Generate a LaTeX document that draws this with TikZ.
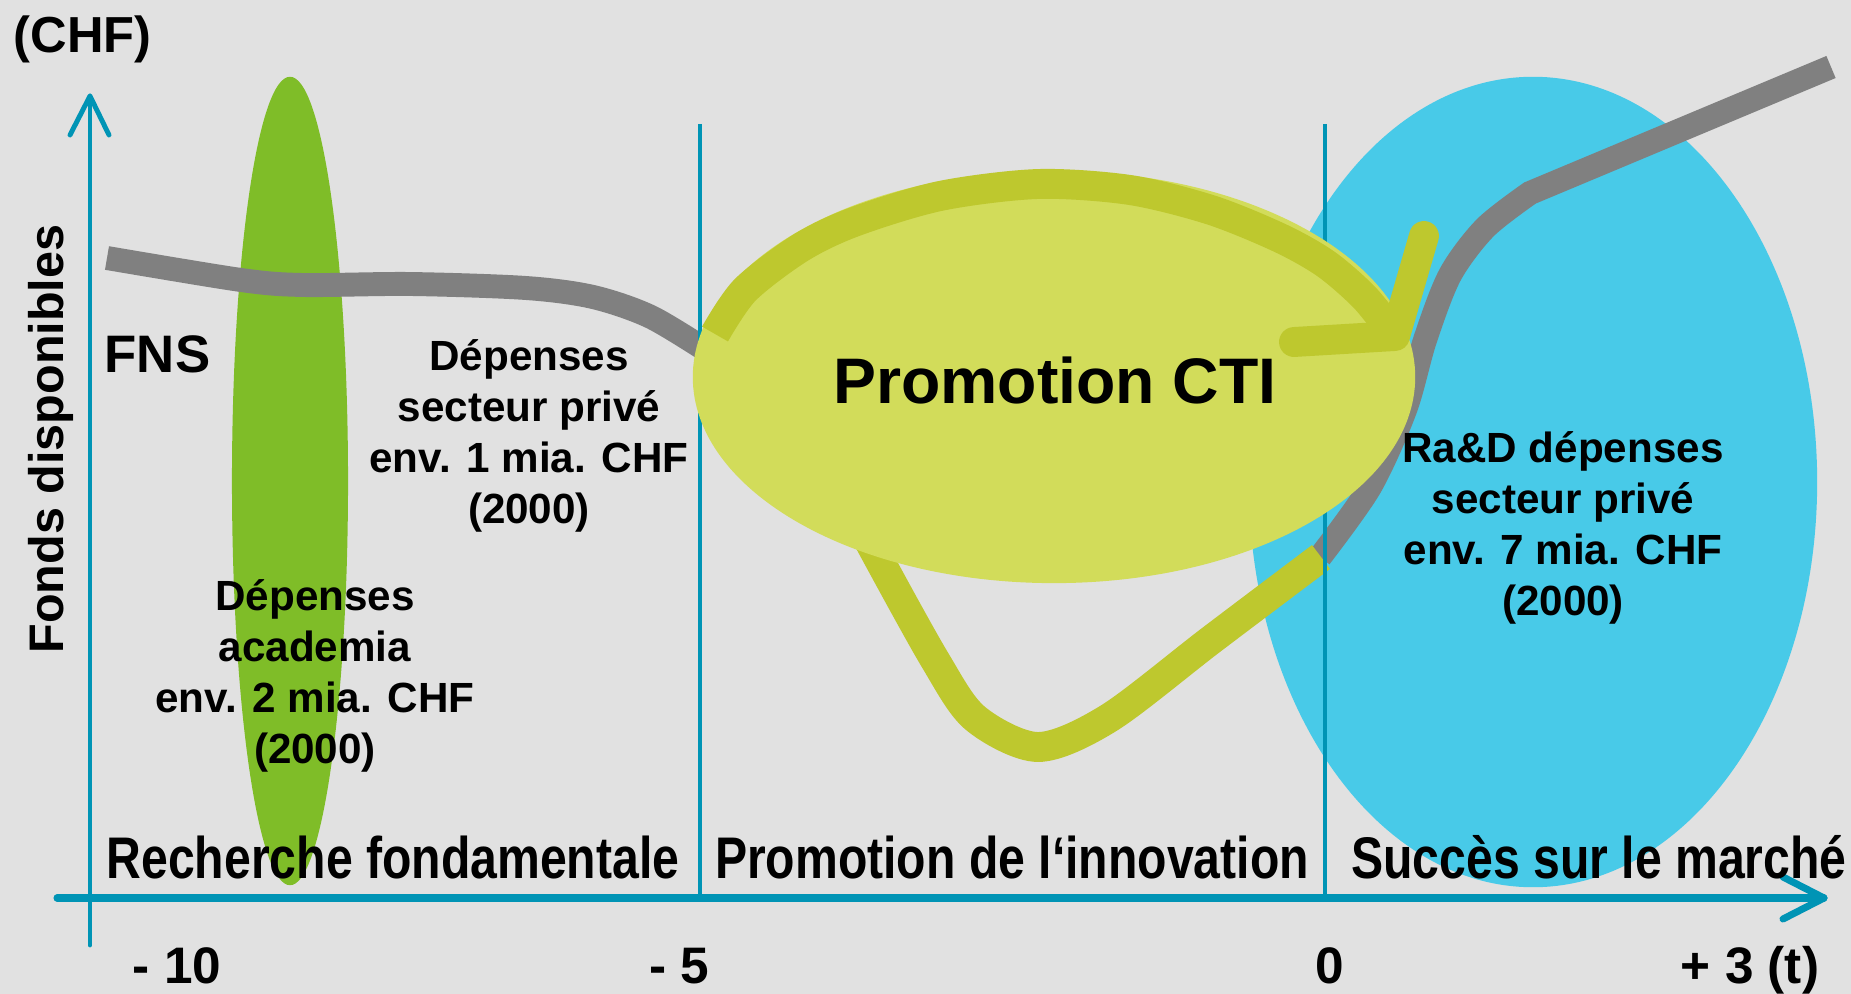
\documentclass[tikz,border=0pt]{standalone}
\usepackage{fontspec}
\usepackage{graphicx}
\usepackage{tikz}
\setmainfont{Liberation Sans}
\definecolor{bggray}{RGB}{225,225,225}
\definecolor{axisblue}{RGB}{0,148,181}
\definecolor{acadgreen}{RGB}{127,189,40}
\definecolor{marketblue}{RGB}{72,202,232}
\definecolor{ctiyellow}{RGB}{210,220,90}
\definecolor{ctidark}{RGB}{190,200,46}
\definecolor{fundgray}{RGB}{128,128,128}

\begin{document}
\begin{tikzpicture}[x=0.01cm,y=-0.01cm]
    \tikzstyle{axis}=[draw=axisblue,line cap=round,line join=round]
    \tikzstyle{divider}=[draw=axisblue,line width=1pt]
    \tikzstyle{funds}=[draw=fundgray,line width=6.8pt]
    \tikzstyle{cti line}=[draw=ctidark,line width=8.5pt]
    \tikzstyle{body}=[align=center,anchor=base,inner sep=0pt,font=\fontsize{12}{14.5}\selectfont\bfseries]
    \tikzstyle{phase}=[anchor=base,inner sep=0pt,font=\fontsize{16.7}{20}\selectfont\bfseries]
    \tikzstyle{tick label}=[anchor=base,inner sep=0pt,font=\fontsize{14.6}{17}\selectfont\bfseries]

    % Background and frame
    \fill[bggray] (0,0) rectangle (1851,994);
    \useasboundingbox (0,0) rectangle (1851,994);

    % Spending areas
    \fill[marketblue] (1533,482) ellipse [x radius=2.84cm, y radius=4.05cm];
    \fill[acadgreen] (290,481) ellipse [x radius=0.58cm, y radius=4.04cm];

    % Available funds
    \draw[funds] plot[smooth] coordinates {(107,258) (241,280) (303,285) (410,284) (526,288) (593,297) (651,317) (712,354)};
    \draw[funds] plot[smooth] coordinates {(1320,557) (1370,487) (1405,410) (1425,340) (1450,275) (1485,228) (1530,193)} -- (1831,67);

    % Loop below the CTI area
    \draw[cti line] plot[smooth] coordinates {(848,500) (875,552) (935,660) (975,718) (1038,747) (1109,718) (1211,640) (1321,557)};

    % Phase borders
    \foreach \x in {700,1325}
        \draw[divider] (\x,124) -- (\x,898);

    % CTI promotion
    \fill[ctiyellow] (1054,377) ellipse [x radius=3.61cm, y radius=2.06cm];
    \draw[cti line] plot[smooth] coordinates {(715,334) (745,290) (800,248) (854,222) (940,196) (1038,184) (1130,190) (1211,210) (1280,238) (1326,264) (1365,298) (1395,336)};
    \draw[cti line,line cap=round,line join=round] (1294,342) -- (1395,336) -- (1424,236);

    % Axes
    \coordinate (O) at (90,898);
    \coordinate (Y) at (90,96);
    \coordinate (X) at (1824,898);
    \draw[axis,line width=1.4pt] (90,945) -- (Y);
    \draw[axis,line width=1.4pt] (70,135) -- (Y) -- (109,135);
    \draw[axis,line width=2pt] (57,898) -- (X);
    \draw[axis,line width=2pt] (1783,877) -- (X) -- (1783,919);

    % Labels (base of a multi-line node is its last line)
    \node[anchor=base west,inner sep=0pt,font=\fontsize{14.4}{17}\selectfont\bfseries] (chf) at (13,53) {(CHF)};
    \node[rotate=90,anchor=base,inner sep=0pt,font=\fontsize{13.8}{16}\selectfont\bfseries] (fonds) at (64,439) {Fonds disponibles};
    \node[anchor=base west,inner sep=0pt,font=\fontsize{15}{18}\selectfont\bfseries] (fns) at (104,372) {FNS};
    \node[body] (prive) at (529,523) {Dépenses\\secteur privé\\env. 1 mia. CHF\\(2000)};
    \node[body] (academia) at (315,763) {Dépenses\\academia\\env. 2 mia. CHF\\(2000)};
    \node[body] (rad) at (1563,615) {Ra\&D dépenses\\secteur privé\\env. 7 mia. CHF\\(2000)};
    \node[anchor=base,inner sep=0pt,font=\fontsize{18.3}{22}\selectfont\bfseries] (cti) at (1055,403) {Promotion CTI};

    % Phases along the time axis
    \foreach \name/\x/\txt in {1/393/Recherche fondamentale,2/1012/Promotion de l‘innovation,3/1599/Succès sur le marché}
        \node[phase] (P-\name) at (\x,878) {\scalebox{0.82}[1]{\txt}};

    % Years
    \foreach \name/\x/\txt in {1/177/- 10,2/679/- 5,3/1330/0,4/1750/+ 3 (t)}
        \node[tick label] (T-\name) at (\x,983) {\txt};

\end{tikzpicture}
\end{document}
